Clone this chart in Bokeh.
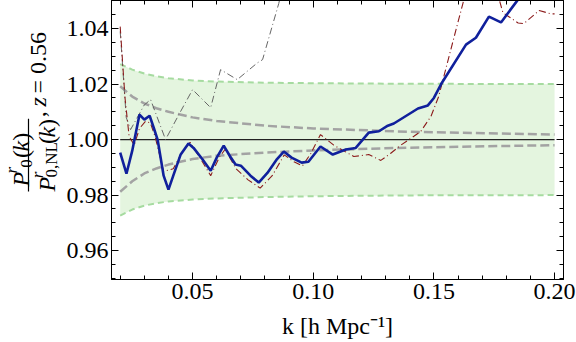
import math
from bokeh.plotting import figure
from bokeh.models import (Range1d, LinearAxis, FixedTicker, PrintfTickFormatter,
                          CustomJSTickFormatter)
from bokeh.layouts import row
from bokeh.core.properties import value
from bokeh.embed import file_html
from bokeh.resources import INLINE

# ---------------- data ----------------
k_env = [0.020, 0.025, 0.030, 0.035, 0.040, 0.050, 0.060, 0.080, 0.100, 0.140, 0.200]
band_hi = [1.0272, 1.0252, 1.0238, 1.0228, 1.0221, 1.0213, 1.0209, 1.0205, 1.0203, 1.0201, 1.0200]
band_lo = [0.9726, 0.9748, 0.9762, 0.9771, 0.9777, 0.9784, 0.9788, 0.9793, 0.9796, 0.9799, 0.9800]
grey_hi = [1.0192, 1.0155, 1.0130, 1.0113, 1.0100, 1.0080, 1.0067, 1.0050, 1.0040, 1.0028, 1.0018]
grey_lo = [0.9812, 0.9850, 0.9878, 0.9896, 0.9910, 0.9930, 0.9942, 0.9953, 0.9961, 0.9971, 0.9980]

ref_k = [0.02, 0.20]
ref_y = [1.0, 1.0]

blue_k = [0.0200, 0.0226, 0.0250, 0.0280, 0.0300, 0.0322, 0.0340, 0.0355, 0.0380, 0.0400,
          0.0420, 0.0450, 0.0483, 0.0504, 0.0540, 0.0575, 0.0600, 0.0629, 0.0655, 0.0678,
          0.0700, 0.0740, 0.0774, 0.0810, 0.0850, 0.0878, 0.0910, 0.0952, 0.0980, 0.1030,
          0.1081, 0.1135, 0.1176, 0.1230, 0.1272, 0.1309, 0.1334, 0.1434, 0.1475, 0.1500,
          0.1530, 0.1633, 0.1674, 0.1728, 0.1778, 0.1849, 0.1900]
blue_y = [0.9953, 0.9877, 0.9960, 1.0090, 1.0072, 1.0086, 1.0040, 1.0000, 0.9870, 0.9820,
          0.9870, 0.9945, 0.9986, 0.9970, 0.9930, 0.9888, 0.9935, 0.9978, 0.9940, 0.9910,
          0.9906, 0.9870, 0.9845, 0.9880, 0.9930, 0.9957, 0.9935, 0.9917, 0.9920, 0.9975,
          0.9946, 0.9964, 0.9970, 1.0025, 1.0030, 1.0050, 1.0058, 1.0112, 1.0123, 1.0150,
          1.0200, 1.0342, 1.0367, 1.0443, 1.0422, 1.0505, 1.0560]

red_k = [0.0200, 0.0220, 0.0237, 0.0258, 0.0280, 0.0305, 0.0325, 0.0345, 0.0380, 0.0420,
         0.0460, 0.0490, 0.0530, 0.0575, 0.0610, 0.0635, 0.0680, 0.0730, 0.0780, 0.0830,
         0.0880, 0.0920, 0.0955, 0.0990, 0.1030, 0.1085, 0.1168, 0.1230, 0.1280, 0.1320,
         0.1363, 0.1417, 0.1446, 0.1488, 0.1520, 0.1545, 0.1570, 0.1620, 0.1680, 0.1740,
         0.1786, 0.1849, 0.1873, 0.1936, 0.1985, 0.2000]
red_y = [1.0407, 1.0150, 1.0012, 0.9980, 1.0040, 1.0066, 1.0060, 1.0010, 0.9885, 0.9895,
         0.9960, 0.9990, 0.9935, 0.9870, 0.9935, 0.9965, 0.9895, 0.9855, 0.9825, 0.9870,
         0.9945, 0.9920, 0.9905, 0.9950, 1.0018, 0.9980, 0.9939, 0.9946, 0.9925, 0.9950,
         0.9980, 1.0012, 1.0030, 1.0084, 1.0156, 1.0240, 1.0324, 1.0490, 1.0700, 1.0600,
         1.0457, 1.0420, 1.0418, 1.0465, 1.0453, 1.0453]

dd_k = [0.0200, 0.0225, 0.0243, 0.0300, 0.0326, 0.0388, 0.0440, 0.0500, 0.0575, 0.0616,
        0.0685, 0.0768, 0.0790, 0.0857, 0.0900]
dd_y = [1.0390, 1.0080, 1.0036, 1.0125, 1.0144, 1.0000, 1.0085, 1.0180, 1.0115, 1.0252,
        1.0216, 1.0276, 1.0288, 1.0490, 1.0650]

x_ticks = [0.05, 0.10, 0.15, 0.20]
y_ticks = [0.96, 0.98, 1.00, 1.02, 1.04]
x_title = "k [h Mpc\u207b\u00b9]"

# ---------------- layout ----------------
TOTAL_W, TOTAL_H = 576, 342
STRIP_W = 62
FONT = "'Liberation Serif', 'Times New Roman', serif"
TICK_FONT = "Liberation Serif"

p = figure(width=TOTAL_W - STRIP_W, height=TOTAL_H, output_backend="svg",
           toolbar_location=None,
           x_range=Range1d(0.0164, 0.2037), y_range=Range1d(0.9496, 1.0501),
           min_border_left=111 - STRIP_W, min_border_right=13,
           min_border_top=0, min_border_bottom=63)
p.grid.visible = False
p.outline_line_color = "black"
p.outline_line_width = 1
p.outline_line_alpha = 1.0

x_minor = [round(0.01 * i, 2) for i in range(2, 21)]
y_minor = [round(0.95 + 0.005 * i, 3) for i in range(0, 21)]
xt = FixedTicker(ticks=x_ticks, minor_ticks=x_minor)
yt = FixedTicker(ticks=y_ticks, minor_ticks=y_minor)

x_fmt = PrintfTickFormatter(format="%.2f")
y_fmt = PrintfTickFormatter(format="%.2f")
blank = CustomJSTickFormatter(code="return ''")

xa = p.xaxis[0]
ya = p.yaxis[0]
xa.update(ticker=xt, formatter=x_fmt,
          major_label_text_font=TICK_FONT, major_label_text_font_size="24px",
          major_label_text_color="black", major_label_standoff=4,
          axis_label=x_title, axis_label_text_font=FONT,
          axis_label_text_font_size="24px", axis_label_text_font_style="normal",
          axis_label_text_color="black", axis_label_standoff=11)
ya.update(ticker=yt, formatter=y_fmt,
          major_label_text_font=TICK_FONT, major_label_text_font_size="24px",
          major_label_text_color="black", major_label_standoff=3)

top_ax = LinearAxis(ticker=xt, formatter=blank, major_label_standoff=0)
right_ax = LinearAxis(ticker=yt, formatter=blank, major_label_standoff=0)
p.add_layout(top_ax, "above")
p.add_layout(right_ax, "right")

for ax in (xa, ya, top_ax, right_ax):
    ax.update(axis_line_color="black", axis_line_width=1,
              major_tick_in=7, major_tick_out=0, minor_tick_in=4, minor_tick_out=0,
              major_tick_line_color="black", minor_tick_line_color="black")

# ---------------- glyphs ----------------
p.varea(x=k_env, y1=band_lo, y2=band_hi, fill_color="#e4f5df", fill_alpha=1.0)
p.line(k_env, band_hi, line_color="#a6dba0", line_width=2, line_dash="6 4")
p.line(k_env, band_lo, line_color="#a6dba0", line_width=2, line_dash="6 4")
p.line(k_env, grey_hi, line_color="#a3a3a3", line_width=2.5, line_dash="9 4")
p.line(k_env, grey_lo, line_color="#a3a3a3", line_width=2.5, line_dash="9 4")
p.line(ref_k, ref_y, line_color="#222222", line_width=1.2)
p.line(dd_k, dd_y, line_color="#666666", line_width=1, line_dash="7 3 1 3")
p.line(red_k, red_y, line_color="#8c1c1c", line_width=1.1, line_dash="7 3 1 3")
p.line(blue_k, blue_y, line_color="#10209c", line_width=2.6)

# ---------------- y-axis title strip (pixel coordinates) ----------------
s = figure(width=STRIP_W, height=TOTAL_H, output_backend="svg", toolbar_location=None,
           x_range=Range1d(0, STRIP_W), y_range=Range1d(TOTAL_H, 0),
           min_border=0, x_axis_type=None, y_axis_type=None)
s.grid.visible = False
s.outline_line_color = None

R = math.pi / 2


def lab(text, px, py, size=24, style="normal"):
    s.text(x=[px], y=[py], text=[text], angle=R, text_font=value(FONT),
           text_font_size=f"{size}px", text_font_style=style, text_color="black",
           text_align="left", text_baseline="alphabetic")


# numerator  P^r_0(k)
y0 = 228
lab("P", 20, y0, style="italic")
lab("r", 11, y0 - 16, size=17, style="italic")
lab("0", 26, y0 - 23, size=17)
lab("(", 20, y0 - 35)
lab("k", 20, y0 - 43, style="italic")
lab(")", 20, y0 - 56)
# denominator  P^r_{0,NL}(k)
y1 = 234
lab("P", 46, y1, style="italic")
lab("r", 37, y1 - 16, size=17, style="italic")
lab("0,NL", 51, y1 - 17, size=17)
lab("(", 46, y1 - 58)
lab("k", 46, y1 - 66, style="italic")
lab(")", 46, y1 - 79)
# fraction bar
s.line(x=[28, 28], y=[145, 234], line_color="black", line_width=1.2)
# ", z = 0.56"
lab(",", 37, 143)
lab("z", 37, 130, style="italic")
lab("= 0.56", 37, 114)

layout = row(s, p)
open("out.html", "w").write(file_html(layout, INLINE))
